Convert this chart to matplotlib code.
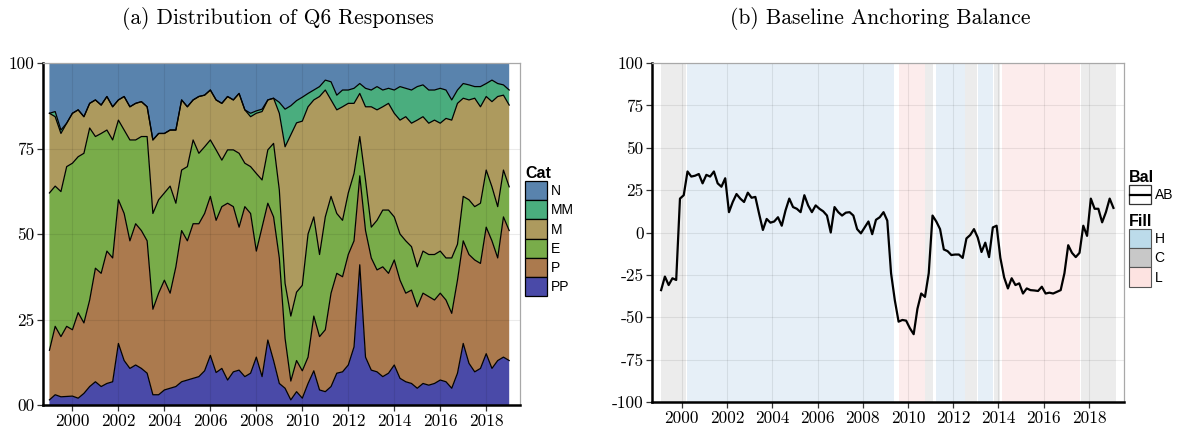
import numpy as np
import matplotlib
matplotlib.use("Agg")
import matplotlib.pyplot as plt
from matplotlib.patches import Patch, Rectangle
from matplotlib.lines import Line2D
from matplotlib.legend_handler import HandlerBase

plt.rcParams["font.family"] = "cmr10"
plt.rcParams["axes.unicode_minus"] = False
plt.rcParams["mathtext.fontset"] = "cm"

# ---- (a) Q6 responses: quarterly, upper edge of each stacked band (%) ----
quarters = 1999 + np.arange(81) / 4
edge_pp = [1.5, 3.0, 2.4, 2.5, 2.6, 2.0, 3.4, 5.4, 6.8, 5.4, 6.3, 6.8,
           18.0, 13.0, 10.7, 11.7, 10.7, 9.3, 3.0, 3.0, 4.4, 4.9, 5.4, 6.8,
           7.3, 7.8, 8.3, 10.0, 14.5, 9.5, 10.7, 7.3, 9.7, 10.2, 8.3, 9.3,
           14.0, 8.3, 19.0, 13.0, 6.3, 4.9, 1.5, 3.9, 2.0, 6.3, 10.0, 4.4,
           3.9, 5.4, 9.3, 9.7, 11.7, 17.0, 41.0, 14.0, 10.2, 9.7, 8.3, 9.3,
           11.7, 7.8, 6.8, 6.3, 4.9, 6.3, 5.8, 6.3, 7.3, 6.8, 4.9, 9.3,
           18.0, 12.2, 9.7, 10.7, 15.0, 10.7, 13.0, 14.0, 13.0]
edge_p = [16, 23, 20, 23, 22, 27, 24, 30.7, 40, 38.5, 45, 43,
          60, 56, 48, 53, 51, 48, 28, 32.7, 36.5, 32.7, 40.4, 51,
          48, 53, 53, 56, 61, 54, 58, 59, 58, 52, 58, 56,
          45, 52, 59, 55, 43, 19.5, 7, 13, 10, 14, 26, 20,
          22, 32.7, 38.5, 37.5, 44, 48, 67, 51, 43, 39.5, 40.4, 38.5,
          42.4, 36.5, 32.7, 33.6, 28.7, 32.7, 31.7, 30.7, 32.7, 30.7, 26.8, 36.5,
          48, 44, 42.4, 41.4, 52, 48, 43, 55, 51]
edge_e = [62, 64, 62.4, 69.7, 70.7, 72.6, 73.6, 81, 78.5, 79.4, 80.4, 77.5,
          83.3, 80.4, 77.5, 77.5, 78.5, 78.5, 56, 60, 62, 64, 59, 68.7,
          69.7, 77.5, 73.6, 75.5, 77.5, 74.6, 71.6, 74.6, 74.6, 73.6, 70.7, 69.7,
          67.7, 65.8, 74.6, 76.5, 62.9, 35.6, 26, 33, 35, 50, 55, 44,
          55, 61, 56, 54, 62, 67.7, 78.5, 65.8, 52, 54, 57, 57,
          55, 50, 48, 46.3, 40.4, 45, 44, 44, 45, 43, 43, 47,
          61, 60, 58, 59, 68.7, 63.8, 58, 68.7, 63.8]
edge_m = [85.3, 84.3, 79.4, 82.4, 85.3, 86.3, 84.3, 88.2, 89.2, 87.7, 90.2, 87.2,
          89.2, 90.2, 87.2, 88.2, 88.7, 87.2, 77.5, 79.4, 79.4, 80.4, 80.4, 89.2,
          87.2, 89.2, 90.2, 90.6, 92.1, 89.2, 88.2, 90.2, 89.2, 91.1, 86.3, 84.3,
          85.3, 85.8, 89.2, 89.7, 85.3, 75.5, 79, 82.5, 83, 87.2, 89.2, 90.2,
          92.1, 89.2, 86.3, 87.2, 88.2, 88.2, 91.1, 87.2, 87.2, 86.3, 87.2, 88.2,
          85.3, 83.3, 84.3, 82.4, 83.3, 84.3, 82.4, 83.3, 82.4, 83.8, 83.3, 88.2,
          89.7, 89.2, 89.7, 87.2, 90.2, 88.7, 90.2, 90.6, 87.7]
edge_mm = [85.3, 85.8, 80.4, 82.4, 85.3, 86.3, 84.3, 88.2, 89.2, 87.7, 90.2, 87.2,
           89.2, 90.2, 87.2, 88.2, 88.7, 87.2, 77.5, 79.4, 79.4, 80.4, 80.4, 89.2,
           87.2, 89.2, 90.2, 90.6, 92.1, 89.2, 88.2, 90.2, 89.2, 91.1, 86.3, 85.3,
           86.0, 86.5, 89.2, 89.7, 88.5, 86.5, 87.5, 89, 90, 91.1, 92.1, 93.1,
           95, 94.5, 90.6, 92.1, 92.1, 92.6, 94, 92.6, 92.1, 93.1, 92.1, 92.6,
           92.1, 93.1, 92.6, 92.1, 93.1, 93.6, 92.1, 92.1, 92.6, 92.1, 89.2, 92.1,
           94, 93.6, 93.1, 93.1, 94, 95, 94, 93.6, 92.1]
cats = ["PP", "P", "E", "M", "MM", "N"]
cat_colors = ["#4a4aa8", "#ab7a4e", "#79ac4a", "#ad9a5e", "#4aad7e", "#5983ad"]

# ---- (b) anchoring balance: every two months from Feb 1999 ----
months = 1999 + 1 / 12 + np.arange(121) / 6
balance = [-34, -26, -31, -27, -28, 20,
           22, 36, 33, 33.5, 34.5, 29,
           34, 33, 36, 29, 27, 32,
           12, 18, 22.7, 20, 18, 23.5,
           20.5, 21, 11, 1.5, 8, 5.8,
           6.5, 9, 4, 13, 20, 15,
           14, 12, 22, 16, 12, 16,
           14, 12.5, 10, 0, 15, 12,
           10, 11.7, 12, 10, 2, -0.5,
           3, 6.5, -1, 7.5, 9, 12,
           7, -24, -40, -52.6, -51.6, -52,
           -56.5, -60, -45, -36, -38, -24,
           10, 6.5, 2, -10, -11, -13.3,
           -13, -13, -15, -3.5, -1.5, 2,
           -3, -11.5, -6, -14.5, 3, 4,
           -15, -26.5, -33, -27, -31, -30,
           -36, -33, -34, -34.2, -34.5, -32,
           -36, -35.5, -36, -35, -34, -24,
           -7.5, -12, -14.5, -12, 4, -2,
           20, 14, 14, 6, 12, 20,
           14.5]
regime_start = [1999.08, 2000.23, 2009.62, 2010.77, 2011.22, 2012.54, 2013.10, 2013.80, 2014.14, 2017.63]
regime_end = [2000.17, 2009.36, 2010.74, 2011.12, 2012.50, 2013.06, 2013.75, 2014.06, 2017.59, 2019.18]
regime_fill = ["C", "H", "L", "C", "H", "C", "H", "C", "L", "C"]
fill_shade = {"H": "#e6eff7", "C": "#ececec", "L": "#fcecec"}
fill_key = {"H": "#bcdbea", "C": "#c8c8c8", "L": "#fde3e1"}


class BoxedLineHandler(HandlerBase):
    """Legend key: outlined square with a horizontal line through its middle."""

    def create_artists(self, legend, orig_handle, xdescent, ydescent,
                       width, height, fontsize, trans):
        box = Rectangle((-xdescent, -ydescent), width, height, facecolor="white",
                        edgecolor="#333333", lw=0.9, transform=trans)
        mid = -ydescent + height / 2
        line = Line2D([-xdescent + 1, -xdescent + width - 1], [mid, mid],
                      color=orig_handle.get_color(), lw=orig_handle.get_linewidth(),
                      transform=trans)
        return [box, line]


fig = plt.figure(figsize=(11.78, 4.28), dpi=100)
ax1 = fig.add_axes([43 / 1178, 1 - 405 / 428, 477 / 1178, 342 / 428])
ax2 = fig.add_axes([652 / 1178, 1 - 402 / 428, 472 / 1178, 339 / 428])

years = np.arange(2000, 2019, 2)


def style_axes(ax):
    ax.set_axisbelow("line")
    ax.grid(True, color="black", alpha=0.08, lw=0.8)
    for s in ["left", "bottom"]:
        ax.spines[s].set_color("black")
        ax.spines[s].set_linewidth(1.8)
    for s in ["top", "right"]:
        ax.spines[s].set_color("#a8a8a8")
        ax.spines[s].set_linewidth(0.9)
    ax.tick_params(length=4, width=0.9, color="#333333", labelsize=12.5, pad=2)
    ax.set_xticks(years)
    ax.set_xticklabels([str(y) for y in years])


# (a) stacked areas
edges = np.vstack([np.zeros(len(quarters)), edge_pp, edge_p, edge_e, edge_m, edge_mm,
                   np.full(len(quarters), 100.0)])
for i, col in enumerate(cat_colors):
    ax1.fill_between(quarters, edges[i], edges[i + 1], facecolor=col, lw=0)
for row in edges[1:-1]:
    ax1.plot(quarters, row, color="black", lw=0.9)
ax1.set_xlim(1998.72, 2019.47)
ax1.set_ylim(0, 100)
style_axes(ax1)
ax1.set_yticks([0, 25, 50, 75, 100])
ax1.set_yticklabels(["00", "25", "50", "75", "100"])

# (b) regimes and balance line
for s, e, f in zip(regime_start, regime_end, regime_fill):
    ax2.axvspan(s, e, facecolor=fill_shade[f], lw=0, zorder=1)
ab_line, = ax2.plot(months, balance, color="black", lw=1.6, zorder=3)
ax2.set_xlim(1998.68, 2019.55)
ax2.set_ylim(-100, 100)
style_axes(ax2)
ax2.set_yticks(np.arange(-100, 101, 25))
ax2.set_yticklabels([str(v) for v in np.arange(-100, 101, 25)])

fig.text(278 / 1178, 1 - 18 / 428, "(a) Distribution of Q6 Responses", ha="center", va="center", fontsize=15.5)
fig.text(880 / 1178, 1 - 18 / 428, "(b) Baseline Anchoring Balance", ha="center", va="center", fontsize=15.5)

# legends
leg_font = {"family": "Liberation Sans", "size": 10}
title_font = {"family": "Liberation Sans", "size": 11.5, "weight": "bold"}
leg_kw = dict(frameon=False, borderpad=0, borderaxespad=0, labelspacing=0,
              handlelength=1.6, handleheight=1.75, handletextpad=0.25,
              prop=leg_font, title_fontproperties=title_font, alignment="left")

cat_handles = [Patch(facecolor=c, edgecolor="black", lw=0.9) for c in cat_colors][::-1]
fig.legend(cat_handles, cats[::-1], title="Cat", loc="upper left",
           bbox_to_anchor=(525 / 1178, 1 - 166 / 428), **leg_kw)

fig.legend([ab_line], ["AB"], title="Bal", loc="upper left",
           bbox_to_anchor=(1129 / 1178, 1 - 170 / 428),
           handler_map={Line2D: BoxedLineHandler()}, **leg_kw)

fill_handles = [Patch(facecolor=fill_key[k], edgecolor="#555555", lw=0.8) for k in ["H", "C", "L"]]
fig.legend(fill_handles, ["H", "C", "L"], title="Fill", loc="upper left",
           bbox_to_anchor=(1129 / 1178, 1 - 214 / 428), **leg_kw)

fig.savefig("out.png", dpi=100)
